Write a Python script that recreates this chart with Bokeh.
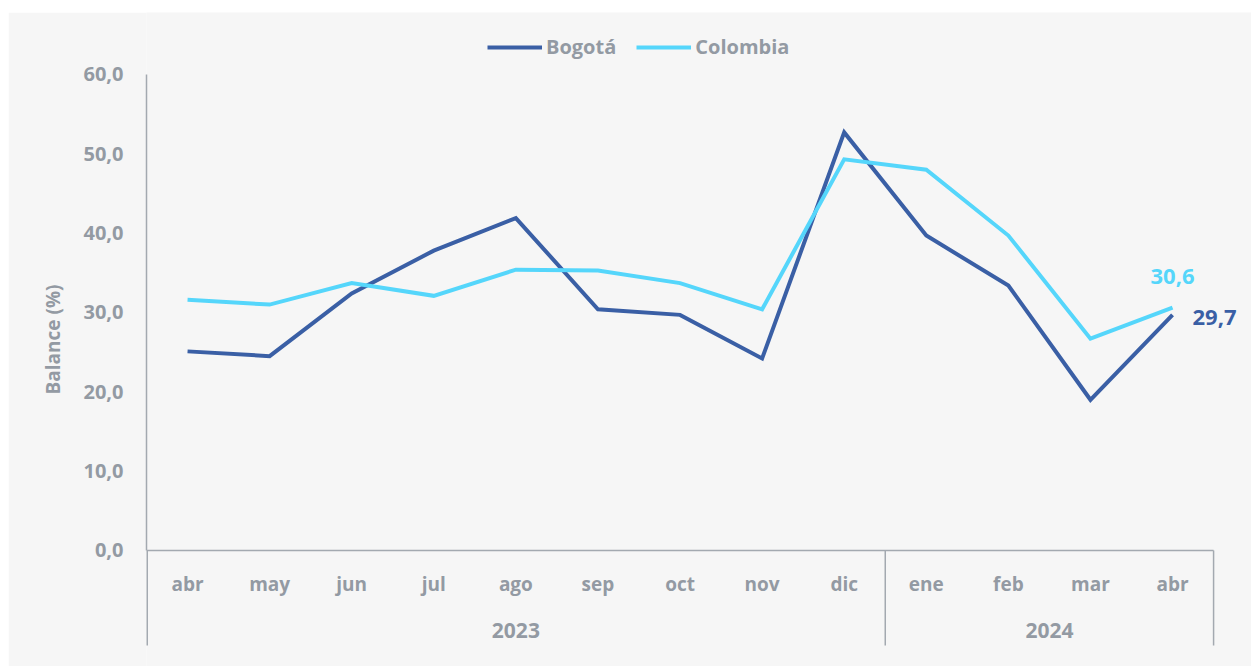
from bokeh.plotting import figure
from bokeh.models import Range1d, FixedTicker, ColumnDataSource, Legend, LegendItem
from bokeh.core.properties import value
from bokeh.embed import file_html
from bokeh.resources import INLINE

# ---- data ----
months = ["abr", "may", "jun", "jul", "ago", "sep", "oct", "nov", "dic", "ene", "feb", "mar", "abr"]
years = ["2023", "2024"]
year_counts = [9, 4]
bogota = [25.1, 24.5, 32.4, 37.8, 41.9, 30.4, 29.7, 24.2, 52.7, 39.7, 33.4, 19.0, 29.7]
colombia = [31.6, 31.0, 33.7, 32.1, 35.4, 35.3, 33.7, 30.4, 49.3, 48.0, 39.7, 26.7, 30.6]
y_ticks = [0, 10, 20, 30, 40, 50, 60]

# ---- style ----
FONT = value("Open Sans")
GRAY = "#939aa3"
AXIS = "#a3a9b0"
C_BOG = "#3a5fa5"
C_COL = "#55d6fb"
BG = "#f6f6f6"

idx = list(range(len(months)))

p = figure(width=1243, height=654, output_backend="svg", toolbar_location=None,
           x_range=Range1d(-0.5, 12.962), y_range=Range1d(-14.622, 67.815),
           min_border_left=138, min_border_right=0, min_border_top=0, min_border_bottom=0)
p.styles = {"margin-top": "12px", "margin-left": "8px"}
p.title.visible = False
p.background_fill_color = BG
p.border_fill_color = BG
p.outline_line_color = None
p.grid.visible = False
p.xaxis.visible = False

ya = p.yaxis[0]
ya.ticker = FixedTicker(ticks=y_ticks)
ya.major_label_overrides = {t: f"{t:.1f}".replace(".", ",") for t in y_ticks}
ya.bounds = (0, 60)
ya.axis_line_color = AXIS
ya.axis_line_width = 1.5
ya.major_tick_line_color = None
ya.minor_tick_line_color = None
ya.major_tick_out = 0
ya.major_label_standoff = 23
ya.major_label_text_font = "Open Sans"
ya.major_label_text_font_style = "bold"
ya.major_label_text_font_size = "20px"
ya.major_label_text_color = GRAY
ya.axis_label = "Balance (%)"
ya.axis_label_text_font = "Open Sans"
ya.axis_label_text_font_style = "bold"
ya.axis_label_text_font_size = "19px"
ya.axis_label_text_color = GRAY
ya.axis_label_standoff = 14

# category axis (drawn manually)
n = len(months)
p.segment(x0=[-0.5], y0=[0], x1=[n - 0.5], y1=[0], line_color=AXIS, line_width=1.5)
bounds = []
acc = 0
for c in year_counts:
    acc += c
    bounds.append(acc - 0.5)
p.segment(x0=bounds, y0=[0] * len(bounds), x1=bounds, y1=[-11.975] * len(bounds),
          line_color=AXIS, line_width=1.5)
p.segment(x0=[-0.5], y0=[0], x1=[-0.5], y1=[-11.975], line_color=AXIS, line_width=3)

month_src = ColumnDataSource(dict(x=idx, y=[-4.16] * n, t=months))
p.text(x="x", y="y", text="t", source=month_src, text_font=FONT, text_font_style="bold",
       text_font_size="19px", text_color=GRAY, text_align="center", text_baseline="middle")

ycenters = []
acc = 0
for c in year_counts:
    ycenters.append(acc + (c - 1) / 2)
    acc += c
year_src = ColumnDataSource(dict(x=ycenters, y=[-10.08] * len(years), t=years))
p.text(x="x", y="y", text="t", source=year_src, text_font=FONT, text_font_style="bold",
       text_font_size="21px", text_color=GRAY, text_align="center", text_baseline="middle")

# series
r1 = p.line(idx, bogota, line_color=C_BOG, line_width=4, line_join="miter")
r2 = p.line(idx, colombia, line_color=C_COL, line_width=4, line_join="miter")

fmt = lambda v: f"{v:.1f}".replace(".", ",")
p.text(x=[idx[-1]], y=[colombia[-1]], text=[fmt(colombia[-1])], text_font=FONT,
       text_font_style="bold", text_font_size="22px", text_color=C_COL,
       text_align="center", text_baseline="middle", y_offset=-31)
p.text(x=[idx[-1]], y=[bogota[-1]], text=[fmt(bogota[-1])], text_font=FONT,
       text_font_style="bold", text_font_size="22px", text_color=C_BOG,
       text_align="left", text_baseline="middle", x_offset=20, y_offset=3)

legend = Legend(items=[LegendItem(label="Bogotá", renderers=[r1]),
                       LegendItem(label="Colombia", renderers=[r2])],
                location=(341, 606), orientation="horizontal")
legend.background_fill_alpha = 0
legend.border_line_color = None
legend.padding = 0
legend.margin = 0
legend.spacing = 20
legend.glyph_width = 55
legend.glyph_height = 20
legend.label_standoff = 4
legend.label_text_font = "Open Sans"
legend.label_text_font_style = "bold"
legend.label_text_font_size = "20px"
legend.label_text_color = GRAY
p.add_layout(legend)

open("out.html", "w").write(file_html(p, INLINE))
